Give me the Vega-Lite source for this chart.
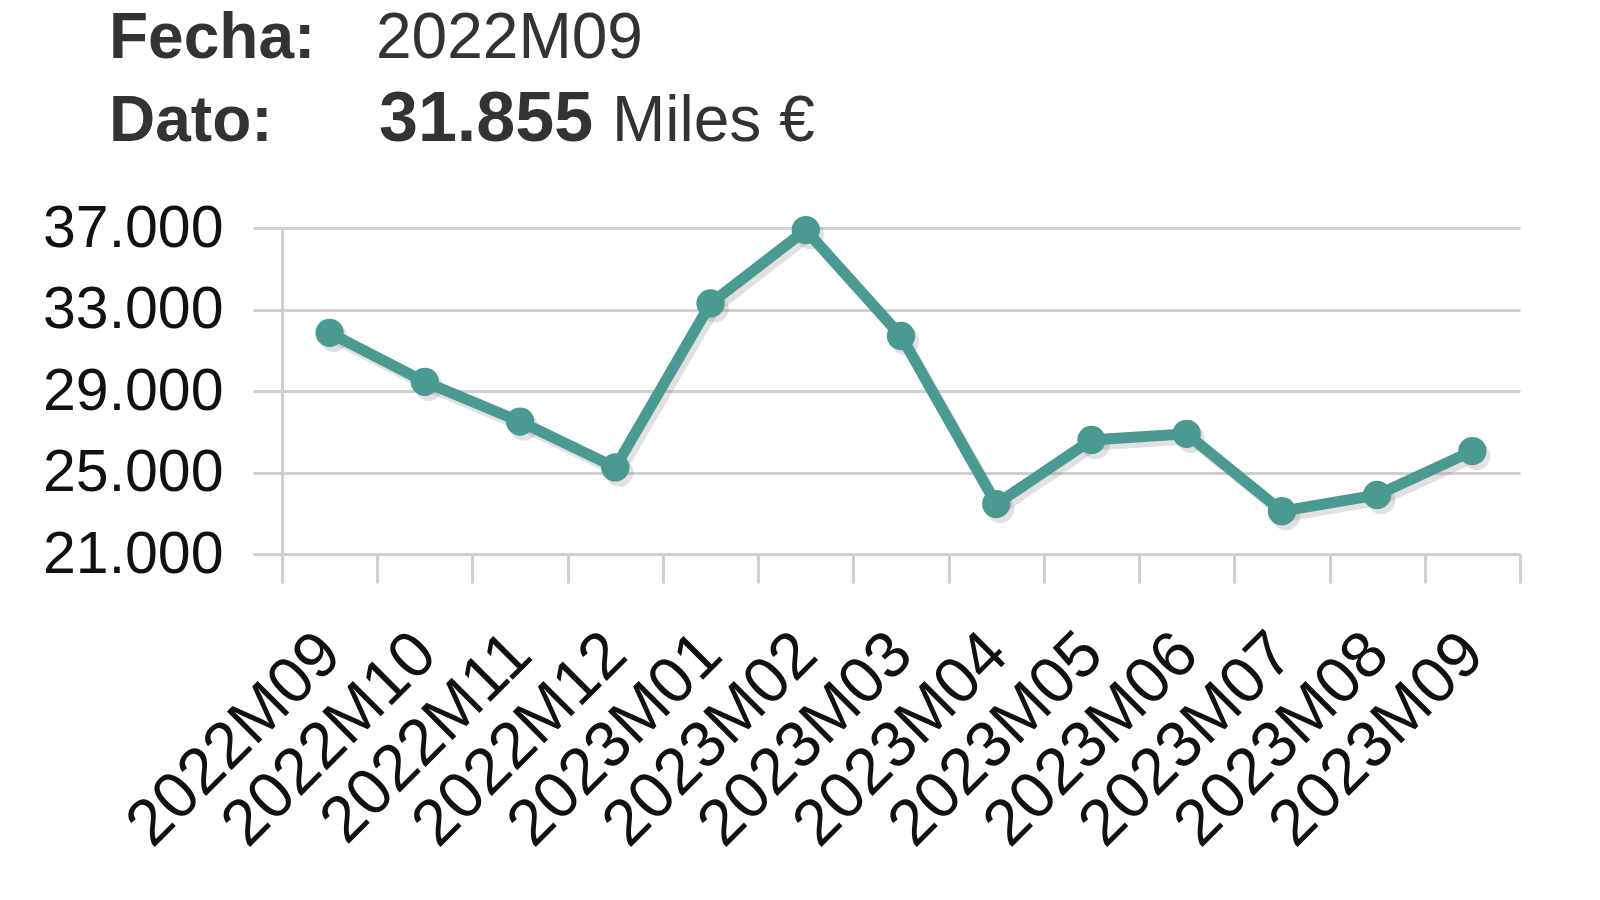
{
  "$schema": "https://vega.github.io/schema/vega-lite/v6.json",
  "background": "white",
  "padding": {"left": 42, "top": 7, "right": 5, "bottom": 5},
  "config": {
    "locale": {"number": {"decimal": ",", "thousands": ".", "grouping": [3], "currency": ["", " €"]}},
    "font": "Liberation Sans",
    "view": {"stroke": null}
  },
  "datasets": {
    "cabecera": [
      {"fila": "Fecha", "columna": "etiqueta", "texto": "Fecha:"},
      {"fila": "Fecha", "columna": "valor", "texto": "2022M09"},
      {"fila": "Dato", "columna": "etiqueta", "texto": "Dato:"},
      {"fila": "Dato", "columna": "valor", "texto": "31.855"},
      {"fila": "Dato", "columna": "unidad", "texto": "Miles €"}
    ],
    "serie": [
      {"fecha": "2022M09", "dato": 31855},
      {"fecha": "2022M10", "dato": 29450},
      {"fecha": "2022M11", "dato": 27500},
      {"fecha": "2022M12", "dato": 25250},
      {"fecha": "2023M01", "dato": 33300},
      {"fecha": "2023M02", "dato": 36900},
      {"fecha": "2023M03", "dato": 31700},
      {"fecha": "2023M04", "dato": 23450},
      {"fecha": "2023M05", "dato": 26600},
      {"fecha": "2023M06", "dato": 26900},
      {"fecha": "2023M07", "dato": 23100},
      {"fecha": "2023M08", "dato": 23900},
      {"fecha": "2023M09", "dato": 26050}
    ]
  },
  "spacing": 44,
  "vconcat": [
    {
      "width": 263,
      "height": 83,
      "data": {"name": "cabecera"},
      "encoding": {
        "y": {"field": "fila", "type": "nominal", "sort": ["Fecha", "Dato"], "scale": {"type": "point", "padding": 0}, "axis": null}
      },
      "layer": [
        {
          "transform": [{"filter": "datum.columna == 'etiqueta'"}],
          "mark": {"type": "text", "align": "left", "baseline": "alphabetic", "dx": -173, "fontSize": 64, "fontWeight": "bold", "color": "#333333"},
          "encoding": {
            "x": {"datum": "etiqueta", "type": "nominal", "scale": {"type": "point", "padding": 0, "domain": ["etiqueta", "valor"]}, "axis": null},
            "text": {"field": "texto"}
          }
        },
        {
          "transform": [{"filter": "datum.columna == 'valor' && datum.fila == 'Fecha'"}],
          "mark": {"type": "text", "align": "left", "baseline": "alphabetic", "dx": -169, "fontSize": 64, "color": "#333333"},
          "encoding": {
            "x": {"datum": "valor", "type": "nominal"},
            "text": {"field": "texto"}
          }
        },
        {
          "transform": [{"filter": "datum.columna == 'valor' && datum.fila == 'Dato'"}],
          "mark": {"type": "text", "align": "left", "baseline": "alphabetic", "dx": -166, "fontSize": 70, "fontWeight": "bold", "color": "#333333"},
          "encoding": {
            "x": {"datum": "valor", "type": "nominal"},
            "text": {"field": "texto"}
          }
        },
        {
          "transform": [{"filter": "datum.columna == 'unidad'"}],
          "mark": {"type": "text", "align": "left", "baseline": "alphabetic", "dx": 67, "fontSize": 64, "color": "#333333"},
          "encoding": {
            "x": {"datum": "valor", "type": "nominal"},
            "text": {"field": "texto"}
          }
        }
      ]
    },
    {
      "width": 1238,
      "height": 326,
      "data": {"name": "serie"},
      "encoding": {
        "x": {
          "field": "fecha",
          "type": "ordinal",
          "title": null,
          "scale": {"type": "band", "paddingInner": 0, "paddingOuter": 0},
          "axis": {
            "tickBand": "extent",
            "labelAngle": -45,
            "labelAlign": "right",
            "labelBaseline": "middle",
            "labelFontSize": 65,
            "labelLimit": 0,
            "labelColor": "#111111",
            "labelPadding": 60,
            "tickSize": 29,
            "tickWidth": 3,
            "tickColor": "#cfcfcf",
            "domainColor": "#cfcfcf",
            "domainWidth": 3,
            "grid": false
          }
        },
        "y": {
          "field": "dato",
          "type": "quantitative",
          "title": null,
          "scale": {"domain": [21000, 37000], "nice": false, "zero": false},
          "axis": {
            "values": [21000, 25000, 29000, 33000, 37000],
            "format": ",d",
            "labelFontSize": 59,
            "labelLimit": 0,
            "labelColor": "#111111",
            "labelPadding": 30,
            "tickSize": 29,
            "tickWidth": 3,
            "tickColor": "#cfcfcf",
            "gridColor": "#cfcfcf",
            "gridWidth": 3,
            "domainColor": "#cfcfcf",
            "domainWidth": 3
          }
        }
      },
      "layer": [
        {
          "mark": {"type": "line", "color": "#888888", "opacity": 0.25, "strokeWidth": 11, "xOffset": 4, "yOffset": 5}
        },
        {
          "mark": {"type": "point", "filled": true, "color": "#888888", "opacity": 0.25, "size": 800, "xOffset": 4, "yOffset": 5}
        },
        {
          "mark": {"type": "line", "color": "#4a9a92", "strokeWidth": 11}
        },
        {
          "mark": {"type": "point", "filled": true, "color": "#4a9a92", "opacity": 1, "size": 800}
        }
      ]
    }
  ]
}
